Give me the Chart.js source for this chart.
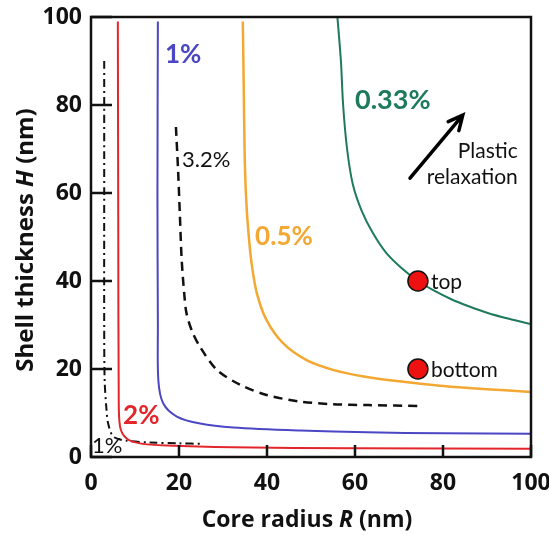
<!DOCTYPE html>
<html>
<head>
<meta charset="utf-8">
<script src="https://cdn.jsdelivr.net/npm/chart.js@4.4.1/dist/chart.umd.min.js"></script>
<style>
  html, body { margin: 0; padding: 0; background: #fff; }
</style>
</head>
<body>
<canvas id="shellChart" width="549" height="535"></canvas>
<script>
// tick values
const xTicks = [0, 20, 40, 60, 80, 100];
const yTicks = [0, 20, 40, 60, 80, 100];

// 2% (red)
const red2R = [6.1, 6.2, 6.3, 6.6, 8.1, 11.1, 17.2, 32.3, 60, 100];
const red2H = [99, 50, 15, 6.9, 4.2, 3.1, 2.6, 2.2, 2.0, 1.9];

// 1% (blue)
const blue1R = [15.2, 15.1, 15.2, 15.3, 16.4, 19.5, 24.8, 32.3, 47.5, 62.7, 80, 100];
const blue1H = [99, 60, 30, 17.5, 12.2, 9.2, 7.6, 6.7, 6.0, 5.6, 5.4, 5.3];

// 0.5% (orange)
const orange05R = [34.5, 34.7, 34.9, 35.2, 35.7, 36.5, 37.7, 39.9, 43.7, 49, 55, 62, 70, 79.3, 90, 100];
const orange05H = [99, 85, 70, 60, 52, 44, 37.2, 31.1, 25.8, 22, 19.8, 18.3, 17.2, 16.2, 15.4, 14.8];

// 0.33% (green)
const green033R = [56, 56.8, 57.3, 58.2, 59.5, 61.5, 64, 67, 70.5, 74.3, 78, 82, 86, 90, 95, 100];
const green033H = [100, 90, 80, 70, 62, 56, 51, 46.5, 43, 40, 37.8, 35.8, 34.2, 32.8, 31.4, 30.2];

// 3.2% (black dashed)
const dash32R = [19.3, 19.8, 20.2, 20.6, 21.2, 21.7, 23, 24.8, 28.6, 33.9, 39.9, 47.5, 55, 63, 75.3];
const dash32H = [75, 65, 55, 45, 37, 32.7, 28.5, 25, 19.8, 16.4, 14.1, 12.6, 12, 11.8, 11.6];

// 1% (black dash-dot)
const dot1R = [3.0, 3.0, 3.0, 3.1, 3.5, 3.9, 5.1, 8.1, 13.4, 20, 25.5];
const dot1H = [90, 60, 30, 17.5, 11, 7.6, 4.6, 3.7, 3.3, 3.1, 3.0];

// marked samples
const sampleR = [74.3, 74.3];
const sampleH = [40, 20];
const sampleNames = ["top", "bottom"];

const pts = (xs, ys) => xs.map((x, i) => ({x: x, y: ys[i]}));

function curve(xs, ys, color, width, dash) {
    return {
        data: pts(xs, ys),
        showLine: true,
        borderColor: color,
        backgroundColor: color,
        borderWidth: width,
        borderDash: dash || [],
        pointRadius: 0,
        tension: 0.3,
        fill: false
    };
}

// text notes, placed in data units
const notes = [
    {text: "1%", x: 16.8, y: 91.5, color: "#4b47c4", font: "bold 26px Lato", align: "left", base: "middle"},
    {text: "3.2%", x: 20.7, y: 67.6, color: "#111", font: "22px Lato", align: "left", base: "middle"},
    {text: "0.33%", x: 60, y: 81.1, color: "#1d7a5c", font: "bold 27px Lato", align: "left", base: "middle"},
    {text: "0.5%", x: 37.3, y: 50.2, color: "#f2a833", font: "bold 26px Lato", align: "left", base: "middle"},
    {text: "2%", x: 7.3, y: 9.5, color: "#e3262b", font: "bold 26px Lato", align: "left", base: "middle"},
    {text: "1%", x: 0.2, y: 2.6, color: "#111", font: "22px Lato", align: "left", base: "middle"},
    {text: "Plastic", x: 97, y: 68, color: "#111", font: "21px Lato", align: "right", base: "alphabetic"},
    {text: "relaxation", x: 97, y: 62, color: "#111", font: "21px Lato", align: "right", base: "alphabetic"}
];
const arrowFrom = {x: 72.5, y: 63.4};
const arrowTo = {x: 84.5, y: 77.7};

const extras = {
    id: "extras",
    afterDraw(chart) {
        const ctx = chart.ctx;
        const xs = chart.scales.x, ys = chart.scales.y;
        const a = chart.chartArea;
        ctx.save();
        // frame
        ctx.strokeStyle = "#111";
        ctx.lineWidth = 2.5;
        ctx.strokeRect(a.left, a.top, a.right - a.left, a.bottom - a.top);
        // inward ticks
        ctx.beginPath();
        xTicks.forEach(v => {
            const px = xs.getPixelForValue(v);
            ctx.moveTo(px, a.bottom);
            ctx.lineTo(px, a.bottom - 12);
        });
        yTicks.forEach(v => {
            const py = ys.getPixelForValue(v);
            ctx.moveTo(a.left, py);
            ctx.lineTo(a.left + 21, py);
        });
        ctx.stroke();

        // sample labels
        ctx.fillStyle = "#111";
        ctx.font = "21px Lato";
        ctx.textAlign = "left";
        ctx.textBaseline = "middle";
        sampleNames.forEach((n, i) => {
            ctx.fillText(n, xs.getPixelForValue(sampleR[i]) + 13, ys.getPixelForValue(sampleH[i]) + 1);
        });

        notes.forEach(n => {
            ctx.font = n.font;
            ctx.fillStyle = n.color;
            ctx.textAlign = n.align;
            ctx.textBaseline = n.base;
            ctx.fillText(n.text, xs.getPixelForValue(n.x), ys.getPixelForValue(n.y));
        });

        // arrow
        const x0 = xs.getPixelForValue(arrowFrom.x), y0 = ys.getPixelForValue(arrowFrom.y);
        const x1 = xs.getPixelForValue(arrowTo.x), y1 = ys.getPixelForValue(arrowTo.y);
        const ang = Math.atan2(y1 - y0, x1 - x0);
        ctx.strokeStyle = "#000";
        ctx.lineWidth = 3.5;
        ctx.lineCap = "round";
        ctx.beginPath();
        ctx.moveTo(x0, y0);
        ctx.lineTo(x1, y1);
        ctx.moveTo(x1 - 16 * Math.cos(ang - 0.45), y1 - 16 * Math.sin(ang - 0.45));
        ctx.lineTo(x1, y1);
        ctx.lineTo(x1 - 16 * Math.cos(ang + 0.45), y1 - 16 * Math.sin(ang + 0.45));
        ctx.stroke();

        // axis titles with italic symbol
        function mixed(parts, cx, cy) {
            let total = 0;
            parts.forEach(p => { ctx.font = p[1]; total += ctx.measureText(p[0]).width; });
            let x = cx - total / 2;
            ctx.textAlign = "left";
            ctx.textBaseline = "alphabetic";
            ctx.fillStyle = "#111";
            parts.forEach(p => {
                ctx.font = p[1];
                ctx.fillText(p[0], x, cy);
                x += ctx.measureText(p[0]).width;
            });
        }
        const tf = "bold 23px 'Open Sans'", tfi = "italic bold 23px 'Open Sans'";
        mixed([["Core radius ", tf], ["R", tfi], [" (nm)", tf]], 307, 527);
        const yf = "bold 24px 'Open Sans'", yfi = "italic bold 24px 'Open Sans'";
        ctx.translate(33, 240);
        ctx.rotate(-Math.PI / 2);
        mixed([["Shell thickness ", yf], ["H", yfi], [" (nm)", yf]], 0, 0);
        ctx.restore();
    }
};

new Chart(document.getElementById("shellChart"), {
    type: "scatter",
    data: {
        datasets: [
            {
                data: pts(sampleR, sampleH),
                pointRadius: 10,
                pointBackgroundColor: "#ee1111",
                pointBorderColor: "#111",
                pointBorderWidth: 1.5
            },
            curve(red2R, red2H, "#e3262b", 2),
            curve(blue1R, blue1H, "#4b47c4", 2),
            curve(orange05R, orange05H, "#f2a833", 2.5),
            curve(green033R, green033H, "#1d7a5c", 2),
            curve(dash32R, dash32H, "#111", 2.5, [9, 6]),
            curve(dot1R, dot1H, "#111", 2, [8, 4, 2, 4])
        ]
    },
    options: {
        responsive: false,
        animation: false,
        layout: { padding: { top: 17, right: 18, left: 0, bottom: 0 } },
        plugins: { legend: { display: false }, tooltip: { enabled: false } },
        scales: {
            x: {
                type: "linear", min: 0, max: 100,
                afterFit: s => { s.height = 78; s.paddingLeft = 0; s.paddingRight = 0; },
                afterBuildTicks: s => { s.ticks = xTicks.map(v => ({value: v})); },
                grid: { display: false, drawTicks: false },
                border: { display: false },
                ticks: { padding: 13, color: "#111", font: { family: "Open Sans", size: 23, weight: "bold" } }
            },
            y: {
                type: "linear", min: 0, max: 100,
                afterFit: s => { s.width = 91; s.paddingTop = 0; s.paddingBottom = 0; },
                afterBuildTicks: s => { s.ticks = yTicks.map(v => ({value: v})); },
                grid: { display: false, drawTicks: false },
                border: { display: false },
                ticks: { padding: 9, color: "#111", font: { family: "Open Sans", size: 23, weight: "bold" } }
            }
        }
    },
    plugins: [extras]
});
</script>
</body>
</html>
